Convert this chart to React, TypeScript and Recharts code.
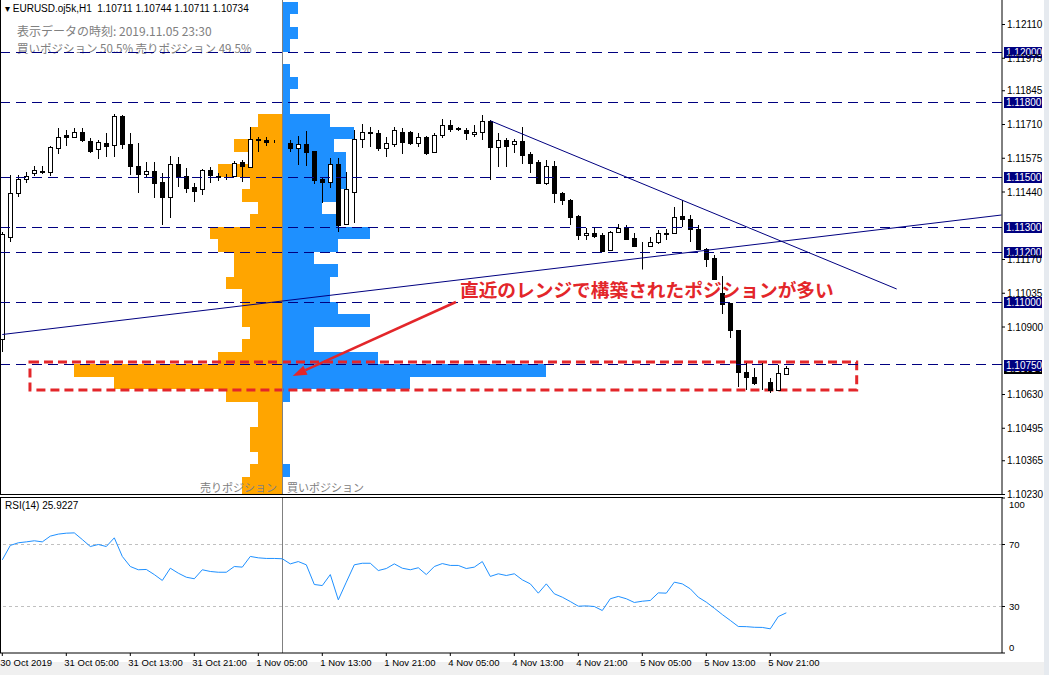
import React from "react";
import {
  Bar,
  BarChart,
  ComposedChart,
  Line,
  LineChart,
  ReferenceArea,
  ReferenceLine,
  XAxis,
  YAxis,
} from "recharts";

// EURUSD H1, 30 Oct 21:00 .. 5 Nov 23:00 (99 bars)
const opens = [
  1.1085, 1.1126, 1.11436, 1.11492, 1.11516, 1.11524, 1.1152, 1.11616, 1.11668, 1.1166,
  1.1168, 1.11644, 1.11612, 1.11636, 1.11628, 1.11744, 1.11632, 1.11544, 1.11512, 1.11524,
  1.1148, 1.1142, 1.11552, 1.11504, 1.1146, 1.11452, 1.11528, 1.11504, 1.11502, 1.11504,
  1.1156, 1.1154, 1.11652, 1.11648, 1.11642, 1.11638, 1.11636, 1.11616, 1.11632, 1.11604,
  1.11492, 1.1148, 1.11552, 1.11312, 1.1144, 1.11652, 1.1168, 1.11676, 1.11616, 1.11632,
  1.1168, 1.1168, 1.11636, 1.1166, 1.116, 1.11668, 1.11708, 1.11694, 1.11688, 1.11672,
  1.1168, 1.11724, 1.1162, 1.11648, 1.11632, 1.11644, 1.11592, 1.1156, 1.11476, 1.11544,
  1.11436, 1.11408, 1.11344, 1.11268, 1.11276, 1.11268, 1.11208, 1.1128, 1.11296, 1.11256,
  1.11228, 1.11224, 1.1124, 1.11276, 1.11276, 1.11344, 1.11332, 1.11292, 1.11212, 1.11176,
  1.11036, 1.10996, 1.10888, 1.1072, 1.107, 1.1068, 1.1068, 1.10648, 1.10711,
];
const highs = [
  1.1128, 1.11508, 1.11508, 1.1152, 1.11544, 1.11544, 1.11624, 1.11696, 1.11688, 1.11696,
  1.11696, 1.11656, 1.11648, 1.11676, 1.11752, 1.11748, 1.11676, 1.11636, 1.1156, 1.1156,
  1.11516, 1.11584, 1.1158, 1.11536, 1.11476, 1.11532, 1.1154, 1.11516, 1.11512, 1.11564,
  1.11568, 1.117, 1.1166, 1.1166, 1.11648, 1.11648, 1.11648, 1.11664, 1.11684, 1.11604,
  1.115, 1.11576, 1.11576, 1.1152, 1.11688, 1.11712, 1.117, 1.11688, 1.1166, 1.117,
  1.11696, 1.11684, 1.11676, 1.11664, 1.11676, 1.11732, 1.11728, 1.117, 1.11696, 1.11708,
  1.11748, 1.11728, 1.11676, 1.11656, 1.11652, 1.117, 1.116, 1.11568, 1.11568, 1.11564,
  1.1144, 1.11412, 1.11348, 1.11296, 1.11296, 1.11276, 1.11284, 1.11312, 1.11308, 1.11276,
  1.1124, 1.1126, 1.11288, 1.11292, 1.1138, 1.11408, 1.11348, 1.11308, 1.11216, 1.11188,
  1.11104, 1.10996, 1.10888, 1.10756, 1.10736, 1.10756, 1.10696, 1.10748, 1.10744,
];
const lows = [
  1.108, 1.1124, 1.1142, 1.11476, 1.11504, 1.11512, 1.11504, 1.11592, 1.11624, 1.11656,
  1.1164, 1.11596, 1.11572, 1.1158, 1.1158, 1.11612, 1.11508, 1.11436, 1.11496, 1.11416,
  1.11308, 1.11336, 1.1146, 1.11436, 1.114, 1.11428, 1.11476, 1.11484, 1.11488, 1.115,
  1.1148, 1.1154, 1.116, 1.11624, 1.11636, 1.1162, 1.116, 1.11548, 1.11544, 1.11472,
  1.11396, 1.11456, 1.1128, 1.11308, 1.11316, 1.11616, 1.1162, 1.11604, 1.1158, 1.1162,
  1.11592, 1.11628, 1.1162, 1.11588, 1.116, 1.11656, 1.1168, 1.11684, 1.11648, 1.1166,
  1.11648, 1.11488, 1.1154, 1.1154, 1.11596, 1.11552, 1.11516, 1.11472, 1.11468, 1.11396,
  1.11388, 1.11308, 1.11248, 1.11248, 1.11256, 1.112, 1.11208, 1.11276, 1.11248, 1.1122,
  1.1113, 1.1122, 1.11232, 1.11248, 1.11276, 1.113, 1.1124, 1.11208, 1.1114, 1.11088,
  1.10952, 1.10856, 1.1066, 1.10648, 1.10668, 1.10648, 1.10636, 1.10648, 1.10711,
];
const closes = [
  1.1127, 1.11436, 1.11492, 1.11504, 1.11528, 1.1152, 1.1162, 1.1166, 1.1166, 1.1168,
  1.11648, 1.11604, 1.1164, 1.11624, 1.11744, 1.11632, 1.11544, 1.11512, 1.11524, 1.11476,
  1.1142, 1.11552, 1.115, 1.11456, 1.11444, 1.11528, 1.11508, 1.11502, 1.115, 1.11556,
  1.11544, 1.11652, 1.11648, 1.1164, 1.11642, 1.11636, 1.11616, 1.11632, 1.116, 1.11488,
  1.1148, 1.11552, 1.11308, 1.11452, 1.11652, 1.1168, 1.11676, 1.11616, 1.11636, 1.11688,
  1.1164, 1.11636, 1.1166, 1.11596, 1.11668, 1.11708, 1.11692, 1.11692, 1.11676, 1.1168,
  1.11724, 1.1162, 1.11648, 1.11624, 1.11644, 1.11588, 1.11556, 1.11476, 1.11544, 1.11436,
  1.11408, 1.1134, 1.11268, 1.11276, 1.11264, 1.11204, 1.1128, 1.11296, 1.11252, 1.11224,
  1.11226, 1.1124, 1.11276, 1.11272, 1.1134, 1.11332, 1.11292, 1.11212, 1.11172, 1.11092,
  1.10992, 1.10888, 1.1072, 1.107, 1.10676, 1.10678, 1.10648, 1.10716, 1.10734,
];
const rsiValues = [
  60.1, 69.4, 71.1, 71.7, 72.4, 71.7, 75.4, 76.7, 77.3, 77.5,
  73.2, 68.7, 70.0, 68.7, 74.3, 62.3, 55.8, 53.7, 53.9, 50.6,
  46.8, 54.7, 51.5, 48.9, 47.9, 53.7, 52.6, 52.1, 52.1, 55.8,
  55.4, 62.3, 61.4, 61.0, 61.0, 60.8, 57.5, 59.0, 56.9, 44.2,
  43.5, 50.6, 34.3, 45.7, 56.9, 57.9, 57.9, 53.2, 54.5, 57.5,
  54.7, 53.7, 55.0, 50.6, 55.8, 57.7, 56.5, 56.5, 54.5, 55.4,
  59.0, 49.4, 51.1, 50.0, 51.1, 47.2, 44.6, 38.6, 44.6, 38.2,
  36.0, 33.2, 30.2, 30.4, 30.0, 27.4, 35.0, 36.5, 35.0, 32.6,
  33.4, 33.9, 38.8, 38.6, 45.7, 44.6, 41.4, 36.0, 32.8, 28.9,
  24.8, 21.0, 17.1, 17.0, 16.6, 16.5, 15.6, 23.5, 25.9227,
];

// order book snapshot (bins of 5 pips, % of positions)
const bookPrices = [
  1.12175, 1.12125, 1.12075, 1.12025, 1.11975, 1.11925, 1.11875, 1.11825, 1.11775, 1.11725,
  1.11675, 1.11625, 1.11575, 1.11525, 1.11475, 1.11425, 1.11375, 1.11325, 1.11275, 1.11225,
  1.11175, 1.11125, 1.11075, 1.11025, 1.10975, 1.10925, 1.10875, 1.10825, 1.10775, 1.10725,
  1.10675, 1.10625, 1.10575, 1.10525, 1.10475, 1.10425, 1.10375, 1.10325, 1.10275, 1.10225,
];
const sellPct = [
  0, 0, 0, 0, 0, 0, 0, 0, 0, 0.3,
  0.4, 0.6, 0.4, 0.8, 0.4, 0.5, 0.3, 0.4, 0.9, 0.8,
  0.6, 0.6, 0.7, 0.5, 0.5, 0.5, 0.4, 0.5, 0.8, 2.6,
  2.1, 0.7, 0.3, 0.3, 0.4, 0.4, 0.3, 0.4, 0.5, 0.5,
];
const buyPct = [
  0.2, 0.1, 0.2, 0.1, 0, 0.1, 0.2, 0.1, 0.1, 0.6,
  0.9, 0.65, 0.8, 0.8, 0.8, 0.7, 0.5, 0.7, 1.1, 0.7,
  0.4, 0.7, 0.6, 0.6, 0.7, 1.1, 0.4, 0.4, 1.2, 3.3,
  1.6, 0.1, 0, 0, 0, 0, 0, 0.1, 0, 0,
];

const priceTicks = [
  1.1023, 1.10365, 1.10495, 1.1063, 1.109, 1.11035, 1.1117, 1.1144, 1.11575, 1.1171,
  1.11845, 1.11975, 1.1211,
];
const levels = [1.12, 1.118, 1.115, 1.113, 1.112, 1.11, 1.1075];
const lastPrice = 1.10734;
const timeTicks = [0, 8, 16, 24, 32, 40, 48, 56, 64, 72, 80, 88, 96];
const timeLabels = [
  "30 Oct 2019", "31 Oct 05:00", "31 Oct 13:00", "31 Oct 21:00", "1 Nov 05:00",
  "1 Nov 13:00", "1 Nov 21:00", "4 Nov 05:00", "4 Nov 13:00", "4 Nov 21:00",
  "5 Nov 05:00", "5 Nov 13:00", "5 Nov 21:00",
];
const bookBar = 35;

const candles = opens.map((o, i) => ({
  i,
  open: o,
  high: highs[i],
  low: lows[i],
  close: closes[i],
  rsi: rsiValues[i],
}));
const book = bookPrices.map((p, k) => ({ price: p, sell: -sellPct[k], buy: buyPct[k] }));

const X_DOMAIN: [number, number] = [-0.2875, 124.9625];
const P_DOMAIN: [number, number] = [1.10228, 1.12208];
const AXIS_FONT = "'Liberation Sans', Arial, sans-serif";
const JP_FONT = "'Noto Sans CJK JP', sans-serif";
const RED = "#e3262a";
const NAVY = "#000080";

const Candle = (props: any) => {
  const { x, y, width, height, payload } = props;
  const { open, high, low, close } = payload;
  const top = Math.min(y, y + height);
  const h = Math.abs(height);
  const cx = Math.round(x + width / 2) + 0.5;
  const span = high - low;
  const py = (p: number) => (span > 0 ? top + ((high - p) / span) * h : top);
  const bTop = Math.round(py(Math.max(open, close))) + 0.5;
  const bBot = Math.round(py(Math.min(open, close))) + 0.5;
  const up = close >= open;
  return (
    <g>
      <line x1={cx} x2={cx} y1={top} y2={top + h} stroke="#000" strokeWidth={1} />
      <rect
        x={cx - 2}
        y={bTop}
        width={4}
        height={Math.max(bBot - bTop, 0)}
        fill={up ? "#fff" : "#000"}
        stroke="#000"
        strokeWidth={1}
      />
    </g>
  );
};

// one histogram row, filling its whole 5-pip bin
const BookRow = (props: any) => {
  const { x, y, width, height, fill } = props;
  if (!width) return <g />;
  const x0 = Math.min(x, x + width);
  const w = Math.abs(width);
  const cy = y + height / 2;
  const t = Math.round(cy - 6.25);
  const b = Math.round(cy + 6.25);
  return <rect x={Math.round(x0)} y={t} width={Math.round(w)} height={b - t} fill={fill} shapeRendering="crispEdges" />;
};

const levelBox = (price: number, bg: string) => (props: any) => {
  const { viewBox } = props;
  const x = viewBox.x + viewBox.width + 2;
  const y = Math.round(viewBox.y);
  return (
    <g>
      <rect x={x} y={y - 5} width={38} height={11} fill={bg} />
      <text
        x={x + 2}
        y={y + 0.5}
        fill="#fff"
        fontSize={10}
        fontFamily={AXIS_FONT}
        dominantBaseline="central"
      >
        {price.toFixed(5)}
      </text>
    </g>
  );
};

const Arrow = (p: any) => {
  const { x1, y1, x2, y2 } = p;
  const a = Math.atan2(y2 - y1, x2 - x1);
  const L = 14;
  const W = 5;
  const bx = x2 - L * Math.cos(a);
  const by = y2 - L * Math.sin(a);
  const pts = `${x2},${y2} ${bx + W * Math.sin(a)},${by - W * Math.cos(a)} ${bx - W * Math.sin(a)},${by + W * Math.cos(a)}`;
  return (
    <g>
      <line x1={x1} y1={y1} x2={bx} y2={by} stroke={RED} strokeWidth={2.5} />
      <polygon points={pts} fill={RED} />
    </g>
  );
};

const TimeTick = (props: any) => {
  const { x, y, payload } = props;
  const idx = timeTicks.indexOf(payload.value);
  return (
    <text x={x - 2} y={y + 8} fontSize={9.5} fontFamily={AXIS_FONT} fill="#000" textAnchor="start">
      {timeLabels[idx]}
    </text>
  );
};

const RsiTick = (props: any) => {
  const { x, y, payload } = props;
  const v = payload.value;
  const dy = v === 100 ? 6 : v === 0 ? -6 : 0;
  return (
    <text x={x + 2} y={y + dy} fontSize={9.5} fontFamily={AXIS_FONT} fill="#000" dominantBaseline="central">
      {v}
    </text>
  );
};

const abs = (s: React.CSSProperties): React.CSSProperties => ({ position: "absolute", ...s });

export default function App() {
  return (
    <div style={{ position: "relative", width: 1049, height: 675, background: "#fff", overflow: "hidden" }}>
      <style>{`body{margin:0}`}</style>
      <div style={abs({ left: 0, top: 662, width: 1049, height: 13, background: "#f0f0f0" })} />
      <div style={abs({ left: 1044, top: 0, width: 5, height: 675, background: "#e6eaef" })} />

      {/* order book histogram behind the candles */}
      <div style={abs({ left: 0, top: 0 })}>
        <BarChart
          layout="vertical"
          width={1049}
          height={500}
          data={book}
          margin={{ top: 0, right: 47, bottom: 5, left: 0 }}
          stackOffset="sign"
          barCategoryGap={0}
        >
          <XAxis type="number" domain={[-3.529, 8.996]} hide allowDataOverflow />
          <YAxis type="number" dataKey="price" domain={P_DOMAIN} hide allowDataOverflow reversed />
          <Bar dataKey="sell" stackId="b" fill="#FFA500" barSize={12} shape={<BookRow />} isAnimationActive={false} />
          <Bar dataKey="buy" stackId="b" fill="#1E90FF" barSize={12} shape={<BookRow />} isAnimationActive={false} />
        </BarChart>
      </div>

      <div style={abs({ left: 5, top: 3, fontFamily: AXIS_FONT, fontSize: 10, color: "#000", whiteSpace: "pre" })}>
        {"▾ EURUSD.oj5k,H1  1.10711 1.10744 1.10711 1.10734"}
      </div>
      <div style={abs({ left: 17, top: 22, fontFamily: JP_FONT, fontSize: 12, color: "#808080", whiteSpace: "pre" })}>
        表示データの時刻: 2019.11.05 23:30
      </div>
      <div style={abs({ left: 17, top: 40, fontFamily: JP_FONT, fontSize: 11.5, color: "#808080", whiteSpace: "pre" })}>
        買いポジション 50.5% 売りポジション 49.5%
      </div>
      <div style={abs({ left: 200, top: 479, fontFamily: JP_FONT, fontSize: 11, color: "#808080", whiteSpace: "pre" })}>
        売りポジション
      </div>
      <div style={abs({ left: 287, top: 479, fontFamily: JP_FONT, fontSize: 11, color: "#808080", whiteSpace: "pre" })}>
        買いポジション
      </div>

      {/* price panel */}
      <div style={abs({ left: 0, top: 0 })}>
        <ComposedChart width={1049} height={500} data={candles} margin={{ top: 0, right: 0, bottom: 5, left: 0 }}>
          <XAxis type="number" dataKey="i" domain={X_DOMAIN} hide allowDataOverflow />
          <YAxis
            orientation="right"
            width={47}
            domain={P_DOMAIN}
            allowDataOverflow
            ticks={priceTicks}
            interval={0}
            tickFormatter={(v: number) => v.toFixed(5)}
            tick={{ fontSize: 10, fill: "#000", fontFamily: AXIS_FONT }}
            tickSize={3}
            axisLine={{ stroke: "#000" }}
            tickLine={{ stroke: "#000" }}
          />
          {levels.map((lv) => (
            <ReferenceLine
              key={lv}
              y={lv}
              stroke={NAVY}
              strokeDasharray="10 6"
              shapeRendering="crispEdges"
              label={lv === 1.1075 ? undefined : levelBox(lv, NAVY)}
            />
          ))}
          <ReferenceLine y={lastPrice} stroke="none" label={levelBox(lastPrice, "#000")} />
          <ReferenceLine y={1.1075} stroke="none" label={levelBox(1.1075, NAVY)} />
          <ReferenceLine x={bookBar} stroke="#808080" shapeRendering="crispEdges" />
          <ReferenceLine
            segment={[{ x: 0, y: 1.1087 }, { x: 124.9, y: 1.11348 }]}
            stroke={NAVY}
            strokeWidth={1}
          />
          <ReferenceLine
            segment={[{ x: 61, y: 1.11725 }, { x: 111.8, y: 1.11052 }]}
            stroke={NAVY}
            strokeWidth={1}
          />
          <Bar
            dataKey={(d: any) => [d.low, d.high]}
            barSize={5}
            shape={<Candle />}
            isAnimationActive={false}
          />
          <ReferenceArea
            x1={3.46}
            x2={106.8}
            y1={1.10648}
            y2={1.1076}
            fill="none"
            fillOpacity={0}
            stroke={RED}
            strokeWidth={3}
            strokeDasharray="9 5"
          />
          <ReferenceLine segment={[{ x: 56.7, y: 1.11 }, { x: 36.3, y: 1.10704 }]} shape={Arrow} />
        </ComposedChart>
      </div>

      <div
        style={abs({
          left: 460,
          top: 275,
          fontFamily: JP_FONT,
          fontWeight: 700,
          fontSize: 18.7,
          color: RED,
          whiteSpace: "pre",
        })}
      >
        直近のレンジで構築されたポジションが多い
      </div>

      <div style={abs({ left: 0, top: 0, width: 1, height: 495, background: "#000" })} />
      <div style={abs({ left: 0, top: 494, width: 1003, height: 1, background: "#000" })} />
      <div style={abs({ left: 0, top: 497, width: 1003, height: 1, background: "#000" })} />
      <div style={abs({ left: 0, top: 497, width: 1, height: 156, background: "#000" })} />

      {/* RSI panel */}
      <div style={abs({ left: 0, top: 497 })}>
        <LineChart width={1049} height={171} data={candles} margin={{ top: 1, right: 0, bottom: 0, left: 0 }}>
          <XAxis
            type="number"
            dataKey="i"
            domain={X_DOMAIN}
            allowDataOverflow
            ticks={timeTicks}
            interval={0}
            height={15}
            tick={<TimeTick />}
            tickSize={3}
            axisLine={{ stroke: "#000" }}
            tickLine={{ stroke: "#000" }}
          />
          <YAxis
            orientation="right"
            width={47}
            domain={[0, 100]}
            ticks={[0, 30, 70, 100]}
            interval={0}
            tick={<RsiTick />}
            tickSize={3}
            axisLine={{ stroke: "#000" }}
            tickLine={{ stroke: "#000" }}
          />
          <ReferenceLine y={70} stroke="#c0c0c0" strokeDasharray="3 3" />
          <ReferenceLine y={30} stroke="#c0c0c0" strokeDasharray="3 3" />
          <ReferenceLine x={bookBar} stroke="#808080" shapeRendering="crispEdges" />
          <Line
            type="linear"
            dataKey="rsi"
            stroke="#1E90FF"
            strokeWidth={1}
            dot={false}
            isAnimationActive={false}
          />
        </LineChart>
      </div>
      <div style={abs({ left: 5, top: 500, fontFamily: AXIS_FONT, fontSize: 10, color: "#000" })}>
        RSI(14) 25.9227
      </div>
    </div>
  );
}
